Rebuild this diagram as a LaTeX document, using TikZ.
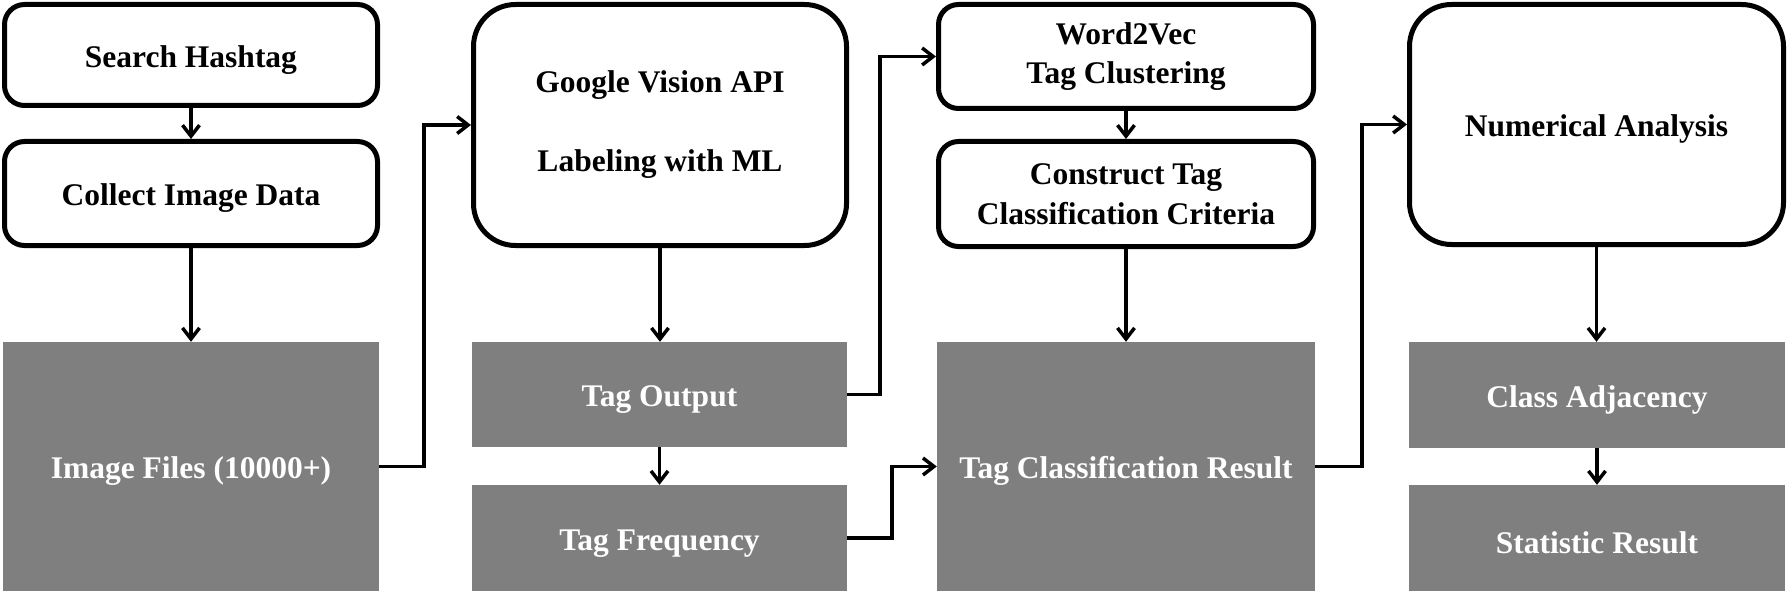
\documentclass[tikz,border=0pt]{standalone}
\usepackage{fontspec}
\setmainfont{Liberation Serif}
\usetikzlibrary{arrows.meta}
\definecolor{boxgray}{HTML}{7F7F7F}
\begin{document}
\begin{tikzpicture}[x=1pt,y=-1pt,
  txt/.style={align=center, inner sep=0pt, font=\bfseries\fontsize{31.5}{39.5}\selectfont,
    execute at begin node={\rule{0pt}{31pt}}},
  softbox/.style={txt, draw, line width=5pt, rounded corners=20pt, fill=white},
  bigbox/.style={softbox, rounded corners=42pt},
  graybox/.style={txt, fill=boxgray, text=white},
  conn/.style={line width=3.5pt, -{Straight Barb[length=11pt,width=17pt]}}
]
\useasboundingbox (0,0) rectangle (1788,591);
% column 1
\node[softbox, minimum width=373pt, minimum height=101pt] (search) at (191,55) {Search Hashtag};
\node[softbox, minimum width=373pt, minimum height=104pt] (collect) at (191,193.5) {Collect Image Data};
\node[graybox, minimum width=376pt, minimum height=249pt] (files) at (191,466.5) {Image Files (10000+)};
% column 2
\node[bigbox, minimum width=373pt, minimum height=241pt] (google) at (660,125) {Google Vision API\\[39.5pt]Labeling with ML};
\node[graybox, minimum width=375pt, minimum height=105pt] (tagout) at (659.5,394.5) {Tag Output};
\node[graybox, minimum width=375pt, minimum height=106pt] (tagfreq) at (659.5,538) {Tag Frequency};
% column 3
\node[softbox, minimum width=375pt, minimum height=104pt] (w2v) at (1126,56.5) {Word2Vec\\Tag Clustering};
\node[softbox, minimum width=375pt, minimum height=105pt] (construct) at (1126,194) {Construct Tag\\Classification Criteria};
\node[graybox, minimum width=378pt, minimum height=249pt] (tcr) at (1126,466.5) {Tag Classification Result};
% column 4
\node[bigbox, minimum width=374pt, minimum height=240pt] (num) at (1596.5,124.5) {Numerical Analysis};
\node[graybox, minimum width=376pt, minimum height=106pt] (classadj) at (1597,395) {Class Adjacency};
\node[graybox, minimum width=376pt, minimum height=106pt] (stat) at (1597,538) {Statistic Result};
% connectors
\draw[conn] (search.south) -- (collect.north);
\draw[conn] (collect.south) -- (files.north);
\draw[conn] (files.east) -- ++(45,0) |- (google.west);
\draw[conn] (google.south) -- (google.south |- tagout.north);
\draw[conn] (tagout.south) -- (tagfreq.north);
\draw[conn] (tagout.east) -- ++(33,0) |- (w2v.west);
\draw[conn] (tagfreq.east) -- ++(45,0) |- (tcr.west);
\draw[conn] (w2v.south) -- (construct.north);
\draw[conn] (construct.south) -- (tcr.north);
\draw[conn] (tcr.east) -- ++(47,0) |- (num.west);
\draw[conn] (num.south) -- (num.south |- classadj.north);
\draw[conn] (classadj.south) -- (stat.north);
\end{tikzpicture}
\end{document}
